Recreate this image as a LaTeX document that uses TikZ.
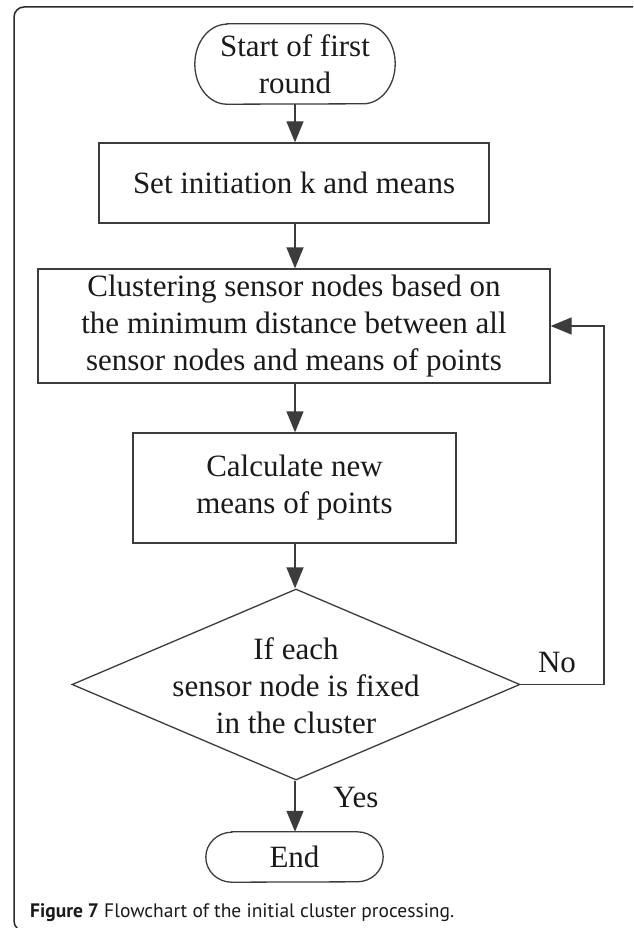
\documentclass[tikz,border=0pt]{standalone}
\usepackage{fontspec}
\setmainfont{Liberation Serif}
\newfontfamily\capfont{PT Sans}
\usetikzlibrary{arrows.meta,shapes.geometric}

\definecolor{linec}{HTML}{3C3C3C}
\definecolor{textc}{HTML}{1A1A1A}
\definecolor{framec}{HTML}{2A2A2A}

\tikzset{
  stepbox/.style={draw=linec, line width=1.3pt, rectangle, inner sep=0pt,
    align=center, text=textc, font=\fontsize{31}{37}\selectfont},
  termbox/.style={draw=none, rectangle, inner sep=0pt, align=center,
    text=textc, font=\fontsize{31}{37}\selectfont},
  decbox/.style={draw=linec, line width=1.3pt, diamond, inner sep=0pt},
  plaintext/.style={inner sep=0pt, align=center, text=textc,
    font=\fontsize{31}{37}\selectfont},
  flow/.style={draw=linec, line width=1.3pt, -{Triangle[length=21pt,width=17pt]}},
  edge/.style={draw=linec, line width=1.3pt},
}

\begin{document}
\begin{tikzpicture}[x=1pt,y=-1pt]
  \useasboundingbox (0,0) rectangle (633,928);
  \fill[white] (0,0) rectangle (633,928);
  \clip (0,0) rectangle (633,928);

  % outer frame of the figure panel
  \draw[framec, line width=1.5pt, rounded corners=10pt] (14,7) rectangle (660,931);

  % terminals, process boxes and decision
  \node[termbox, minimum width=200pt, minimum height=80pt] (start) at (295,64)
    {Start of first\\round};
  \draw[edge] ([xshift=32pt]start.north west) -- ([xshift=-32pt]start.north east)
    arc[start angle=90, end angle=-90, x radius=32pt, y radius=40pt]
    -- ([xshift=32pt]start.south west)
    arc[start angle=270, end angle=90, x radius=32pt, y radius=40pt] -- cycle;

  \node[stepbox, minimum width=390pt, minimum height=80pt] (init) at (294,183)
    {Set initiation k and means};

  \node[stepbox, minimum width=512pt, minimum height=114pt] (clus) at (294,326)
    {Clustering sensor nodes based on\\the minimum distance between all\\sensor nodes and means of points};

  \node[stepbox, minimum width=323pt, minimum height=110pt] (calc) at (294.5,488)
    {Calculate new\\means of points};

  \node[decbox, minimum width=448pt, minimum height=191pt] (dec) at (296,684.5) {};
  \node[plaintext] (dectext) at (296,686)
    {If each\\sensor node is fixed\\in the cluster};

  \node[termbox, minimum width=177pt, minimum height=50pt] (stop) at (294.5,857) {End};
  \draw[edge] ([xshift=26pt]stop.north west) -- ([xshift=-26pt]stop.north east)
    arc[start angle=90, end angle=-90, x radius=26pt, y radius=25pt]
    -- ([xshift=26pt]stop.south west)
    arc[start angle=270, end angle=90, x radius=26pt, y radius=25pt] -- cycle;

  % connectors
  \draw[flow] (start.south -| 295,0) -- (init.north -| 295,0);
  \draw[flow] (init.south -| 295,0) -- (clus.north -| 295,0);
  \draw[flow] (clus.south -| 295,0) -- (calc.north -| 295,0);
  \draw[flow] (calc.south -| 295,0) -- (dec.north -| 295,0);
  \draw[flow] (dec.south -| 295,0) -- (stop.north -| 295,0);

  \coordinate (loop) at (604,684.5);
  \draw[flow] (dec.east) -- (loop) |- (clus.east);

  % branch labels
  \node[plaintext] (no) at (557,662) {No};
  \node[plaintext] (yes) at (356,797) {Yes};

  % caption
  \node[anchor=base west, inner sep=0pt, text=textc] (cap) at (30,917)
    {\capfont\fontsize{19.5}{22}\selectfont\textbf{Figure 7} Flowchart of the initial cluster processing.};
\end{tikzpicture}
\end{document}
